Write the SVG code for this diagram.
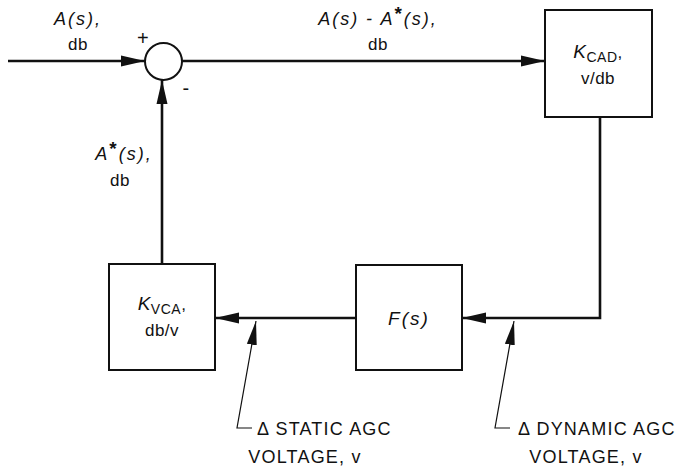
<svg xmlns="http://www.w3.org/2000/svg" width="680" height="468" viewBox="0 0 680 468">
<style>
.blk{fill:#fff;stroke:#111;stroke-width:2}
.ln{fill:none;stroke:#111;stroke-width:2.6}
.th{fill:none;stroke:#111;stroke-width:1.2}
text{font-family:"Liberation Sans","DejaVu Sans",sans-serif;fill:#111;font-size:17px;text-anchor:middle;letter-spacing:0.5px}
.it{font-style:italic;font-size:18px;letter-spacing:2px}
.st{font-size:19px;font-style:normal;font-weight:bold}
.cap{font-size:18px;letter-spacing:1.2px;text-anchor:start}
</style>
<defs>
<marker id="ah" markerWidth="24" markerHeight="12" refX="24" refY="6" orient="auto" markerUnits="userSpaceOnUse">
<path d="M0,0.5 L24,6 L0,11.5 Z" fill="#111"/>
</marker>
<marker id="ap" markerWidth="24" markerHeight="12" refX="24" refY="6" orient="auto" markerUnits="userSpaceOnUse">
<path d="M0,1 L24,6 L0,11 Z" fill="#111"/>
</marker>
</defs>
<g id="connectors">
<line class="ln" x1="8" y1="61" x2="145" y2="61" marker-end="url(#ah)"/>
<line class="ln" x1="182" y1="61" x2="545" y2="61" marker-end="url(#ah)"/>
<polyline class="ln" points="600,117 600,318 462,318" marker-end="url(#ah)"/>
<line class="ln" x1="356" y1="318" x2="215" y2="318" marker-end="url(#ah)"/>
<line class="ln" x1="162" y1="264" x2="162" y2="80" marker-end="url(#ah)"/>
<polyline class="th" points="252,428 237,428 256,321" marker-end="url(#ap)"/>
<polyline class="th" points="510,428 495,428 514,321" marker-end="url(#ap)"/>
</g>
<g id="sum">
<circle cx="163.5" cy="61.5" r="18.5" fill="#fff" stroke="#111" stroke-width="2"/>
<text x="143" y="45" style="font-size:20px">+</text>
<text x="186" y="95" style="font-size:20px">-</text>
</g>
<g id="kcad">
<rect class="blk" x="545" y="10" width="107" height="107"/>
<text x="598" y="58"><tspan style="font-style:italic;font-size:19px">K</tspan><tspan style="font-size:14px" dy="4">CAD</tspan><tspan dy="-4">,</tspan></text>
<text x="598" y="84">v/db</text>
</g>
<g id="fs">
<rect class="blk" x="356" y="265" width="106" height="105"/>
<text x="409" y="325" class="it" style="font-size:19px">F(s)</text>
</g>
<g id="kvca">
<rect class="blk" x="109" y="264" width="106" height="106"/>
<text x="162" y="310"><tspan style="font-style:italic;font-size:19px">K</tspan><tspan style="font-size:14px" dy="4">VCA</tspan><tspan dy="-4">,</tspan></text>
<text x="162" y="336">db/v</text>
</g>
<g id="labels">
<text x="78" y="25" class="it">A(s),</text>
<text x="78" y="50">db</text>
<text x="378" y="25" class="it">A(s)  - A<tspan dy="-5" class="st">*</tspan><tspan dy="5">(s),</tspan></text>
<text x="378" y="50">db</text>
<text x="124" y="160" class="it">A<tspan dy="-5" class="st">*</tspan><tspan dy="5">(s),</tspan></text>
<text x="120" y="186">db</text>
<text x="257" y="435" class="cap">Δ STATIC AGC</text>
<text x="305" y="463" style="font-size:18px;letter-spacing:1.2px">VOLTAGE, v</text>
<text x="518" y="435" class="cap">Δ DYNAMIC AGC</text>
<text x="586" y="463" style="font-size:18px;letter-spacing:1.2px">VOLTAGE, v</text>
</g>
</svg>
